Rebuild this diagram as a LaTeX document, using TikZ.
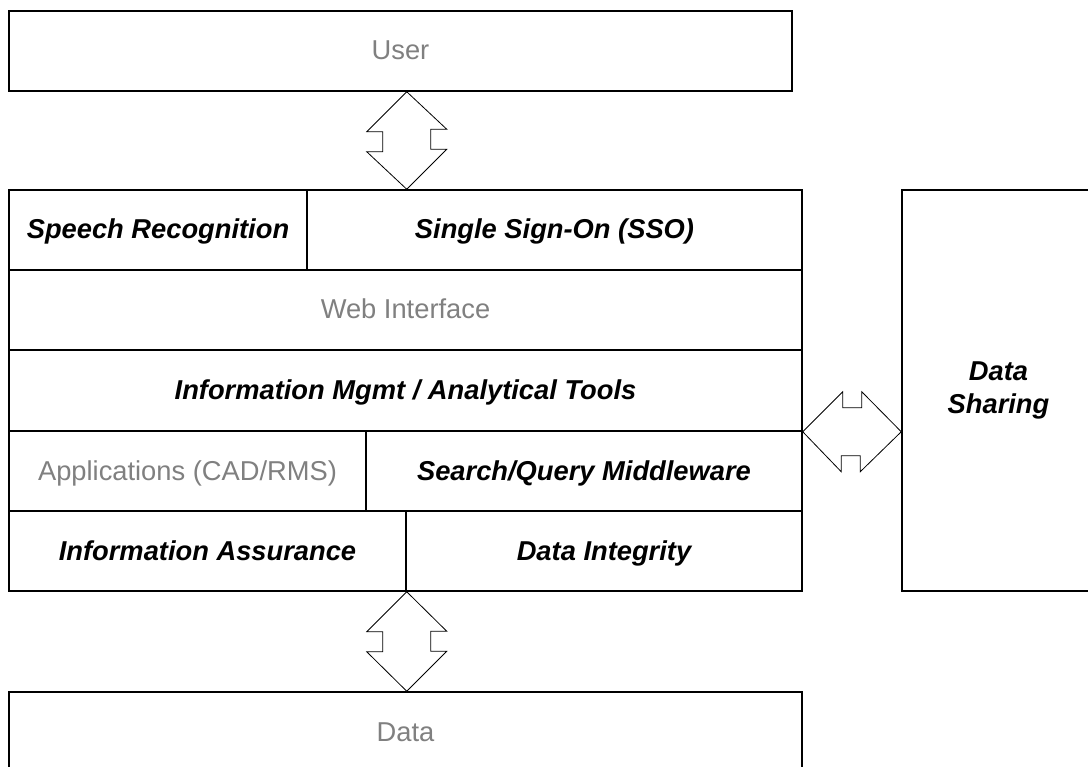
\documentclass[tikz,border=0pt]{standalone}
\usepackage{fontspec}
\setmainfont{Liberation Sans}
\usepackage{tikz}
\definecolor{white}{RGB}{255,255,255}
\definecolor{black}{RGB}{0,0,0}
\definecolor{label_grey}{RGB}{128,128,128}

\begin{document}
\begin{tikzpicture}[x=1pt,y=-1pt,
	box/.style={rectangle,draw=black,line width=1.5pt,fill=white,inner sep=0pt,minimum height=80pt,text height=22pt,text depth=4pt,font=\fontsize{27.3}{33}\selectfont},
	bold_box/.style={box,font=\fontsize{27.3}{33}\selectfont\bfseries\itshape,text=black},
	grey_box/.style={box,text=label_grey},
	dbl_arrow/.style={draw=black,line width=0.8pt,fill=white,line join=miter}]
	\useasboundingbox (0,0) rectangle (1088,767);

	\node[grey_box,minimum width=783pt] (user) at (400.5,51) {User};

	\node[bold_box,minimum width=298pt] (speech) at (158,230) {Speech Recognition};
	\node[bold_box,minimum width=495pt] (sso) at (554.5,230) {Single Sign-On (SSO)};
	\node[grey_box,minimum width=793pt] (web) at (405.5,310) {Web Interface};
	\node[bold_box,minimum width=793pt,minimum height=81pt] (info) at (405.5,390.5) {Information Mgmt / Analytical Tools};
	\node[grey_box,minimum width=357pt] (apps) at (187.5,471) {Applications (CAD/RMS)};
	\node[bold_box,minimum width=436pt] (search) at (584,471) {Search/Query Middleware};
	\node[bold_box,minimum width=397pt] (assure) at (207.5,551) {Information Assurance};
	\node[bold_box,minimum width=396pt] (integ) at (604,551) {Data Integrity};

	\node[grey_box,minimum width=793pt] (data) at (405.5,732) {Data};
	\node[bold_box,minimum width=193pt,minimum height=401pt,text height=,text depth=,align=center] (share) at (998.5,390.5) {Data\\Sharing};

	% user <-> stack
	\draw[dbl_arrow] (user.south -| assure.east) -- ++(-40,40) -- ++(16,0) -- ++(0,20) -- ++(-16,0)
		-- (speech.north -| assure.east) -- ++(40,-40) -- ++(-16,0) -- ++(0,-20) -- ++(16,0) -- cycle;
	% stack <-> data
	\draw[dbl_arrow] (assure.south east) -- ++(-40,40) -- ++(16,0) -- ++(0,20) -- ++(-16,0)
		-- (data.north -| assure.south east) -- ++(40,-40) -- ++(-16,0) -- ++(0,-20) -- ++(16,0) -- cycle;
	% stack <-> data sharing
	\draw[dbl_arrow] (info.south east) -- ++(40,-40) -- ++(0,16) -- ++(19,0) -- ++(0,-16)
		-- (share.west |- info.south east) -- ++(-41,40) -- ++(0,-16) -- ++(-19,0) -- ++(0,16) -- cycle;
\end{tikzpicture}
\end{document}
